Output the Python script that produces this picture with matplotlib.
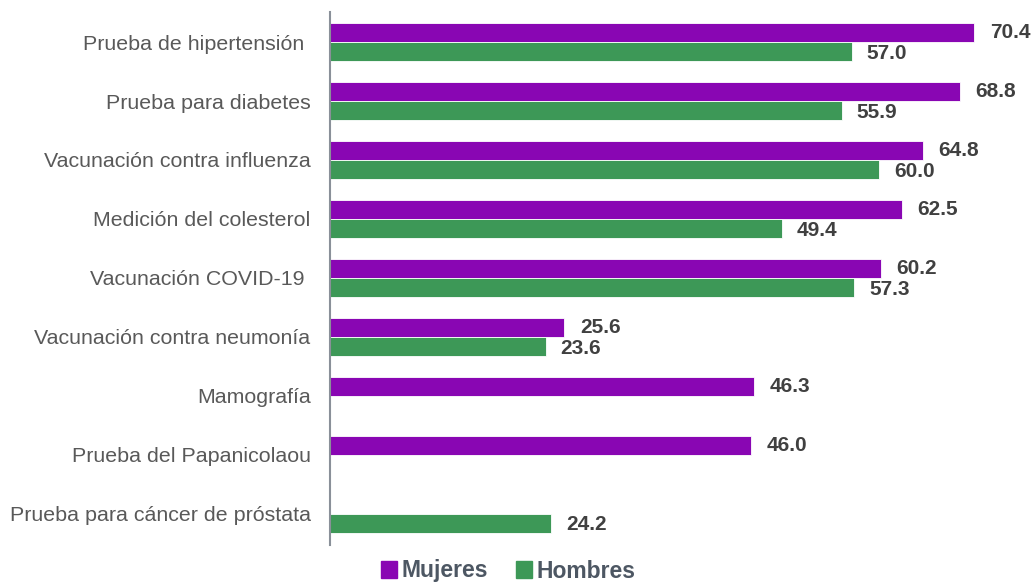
import matplotlib.pyplot as plt
import numpy as np

plt.rcParams['font.family'] = ['Liberation Sans', 'DejaVu Sans']

categorias = ["Prueba de hipertensión ", "Prueba para diabetes", "Vacunación contra influenza",
              "Medición del colesterol", "Vacunación COVID-19 ", "Vacunación contra neumonía",
              "Mamografía", "Prueba del Papanicolaou", "Prueba para cáncer de próstata"]
mujeres = [70.4, 68.8, 64.8, 62.5, 60.2, 25.6, 46.3, 46.0, None]
hombres = [57.0, 55.9, 60.0, 49.4, 57.3, 23.6, None, None, 24.2]

c_muj = "#8906B3"
c_hom = "#3D9857"

fig = plt.figure(figsize=(10.32, 5.82), dpi=100)
ax = fig.add_axes([330 / 1032, 37 / 582, 680 / 1032, 533 / 582])

y = np.arange(len(categorias))
h = 0.32
for i in range(len(categorias)):
  if mujeres[i] is not None:
    ax.barh(y[i] - h / 2, mujeres[i], height=h, color=c_muj, edgecolor="white", linewidth=0.6)
    ax.text(mujeres[i] + 1.7, y[i] - h / 2, "%.1f" % mujeres[i], va="center", ha="left",
            fontsize=15, fontweight="bold", color="#404040")
  if hombres[i] is not None:
    ax.barh(y[i] + h / 2, hombres[i], height=h, color=c_hom, edgecolor="white", linewidth=0.6)
    ax.text(hombres[i] + 1.6, y[i] + h / 2 + 0.03, "%.1f" % hombres[i], va="center", ha="left",
            fontsize=15, fontweight="bold", color="#404040")

ax.set_xlim(0, 74.3)
ax.set_ylim(8.53, -0.51)
ax.set_yticks(y)
ax.set_yticklabels(categorias, fontsize=15.4, color="#595959")
ax.tick_params(axis="y", length=0, pad=14)
ax.set_xticks([])
for s in ["top", "right", "bottom"]:
  ax.spines[s].set_visible(False)
ax.spines["left"].set_color("#8A9099")
ax.spines["left"].set_linewidth(1.5)

# legend below
handles = [plt.Rectangle((0, 0), 1, 1, color=c_muj), plt.Rectangle((0, 0), 1, 1, color=c_hom)]
leg = fig.legend(handles, ["Mujeres", "Hombres"], loc="center", bbox_to_anchor=(508 / 1032, 1 - 571 / 582),
                 ncol=2, frameon=False, handlelength=0.7, handleheight=0.7, handletextpad=0.2,
                 columnspacing=1.2, prop={"size": 16.5, "weight": "bold"})
for t in leg.get_texts():
  t.set_color("#4D5763")

fig.savefig("out.png", dpi=100)
